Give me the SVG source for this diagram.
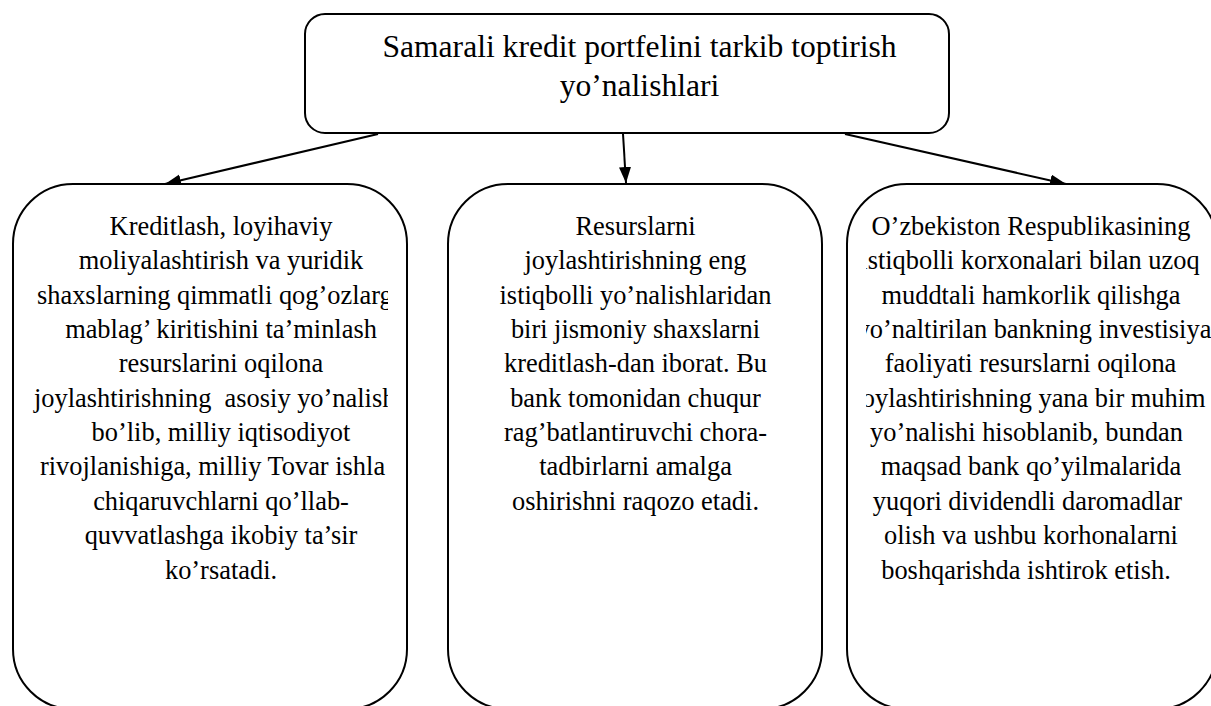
<svg xmlns="http://www.w3.org/2000/svg" width="1211" height="706" viewBox="0 0 1211 706">
<style>
.box{fill:#fff;stroke:#000;stroke-width:2}
.t{font-family:"Liberation Serif","Times New Roman",serif;font-size:26.4px;fill:#000}
.title{font-family:"Liberation Serif","Times New Roman",serif;font-size:31.6px;fill:#000;text-anchor:middle}
.m{text-anchor:middle}
.conn{stroke:#000;stroke-width:2;fill:none;marker-end:url(#arr)}
</style>
<defs>
<marker id="arr" markerUnits="userSpaceOnUse" markerWidth="18" markerHeight="14" refX="16" refY="6" orient="auto">
<path d="M0,0 L16,6 L0,12 z" fill="#000"/>
</marker>
<clipPath id="clipL"><rect x="0" y="180" width="388" height="530"/></clipPath>
<clipPath id="clipR"><rect x="866" y="180" width="345" height="530"/></clipPath>
</defs>

<g id="connectors">
<line class="conn" x1="378" y1="134" x2="165" y2="184"/>
<line class="conn" x1="623" y1="134" x2="626" y2="183"/>
<line class="conn" x1="845" y1="134" x2="1066" y2="184"/>
</g>

<g id="top">
<rect class="box" x="305" y="14" width="644" height="119" rx="20" ry="20"/>
<text class="title" x="639.5" y="57">Samarali kredit portfelini tarkib toptirish</text>
<text class="title" x="639.5" y="96">yo’nalishlari</text>
</g>

<g id="left">
<rect class="box" x="13" y="184" width="394" height="525" rx="60" ry="60"/>
<g clip-path="url(#clipL)" class="t">
<text class="m" x="221" y="235">Kreditlash, loyihaviy</text>
<text class="m" x="221" y="269.35">moliyalashtirish va yuridik</text>
<text x="37" y="303.7">shaxslarning qimmatli qog’ozlarg</text>
<text class="m" x="221" y="338">mablag’ kiritishini ta’minlash</text>
<text class="m" x="221" y="372.4">resurslarini oqilona</text>
<text x="34" y="406.75" xml:space="preserve">joylashtirishning  asosiy yo’nalish</text>
<text class="m" x="221" y="441.1">bo’lib, milliy iqtisodiyot</text>
<text x="40" y="475.45">rivojlanishiga, milliy Tovar ishla</text>
<text class="m" x="221" y="509.8">chiqaruvchlarni qo’llab-</text>
<text class="m" x="221" y="544.15">quvvatlashga ikobiy ta’sir</text>
<text class="m" x="221" y="578.5">ko’rsatadi.</text>
</g>
</g>

<g id="middle">
<rect class="box" x="448" y="184" width="374" height="525" rx="60" ry="60"/>
<g class="t">
<text class="m" x="635.5" y="235">Resurslarni</text>
<text class="m" x="635.5" y="269.35">joylashtirishning eng</text>
<text class="m" x="635.5" y="303.7">istiqbolli yo’nalishlaridan</text>
<text class="m" x="635.5" y="338">biri jismoniy shaxslarni</text>
<text class="m" x="635.5" y="372.4">kreditlash-dan iborat. Bu</text>
<text class="m" x="635.5" y="406.75">bank tomonidan chuqur</text>
<text class="m" x="635.5" y="441.1">rag’batlantiruvchi chora-</text>
<text class="m" x="635.5" y="475.45">tadbirlarni amalga</text>
<text class="m" x="635.5" y="509.8">oshirishni raqozo etadi.</text>
</g>
</g>

<g id="right">
<rect class="box" x="847" y="184" width="370" height="525" rx="60" ry="60"/>
<g clip-path="url(#clipR)" class="t">
<text class="m" x="1031" y="235">O’zbekiston Respublikasining</text>
<text class="m" x="1030" y="269.35">istiqbolli korxonalari bilan uzoq</text>
<text class="m" x="1031" y="303.7">muddtali hamkorlik qilishga</text>
<text class="m" x="1034" y="338">yo’naltirilan bankning investisiya</text>
<text class="m" x="1030.5" y="372.4">faoliyati resurslarni oqilona</text>
<text class="m" x="1030" y="406.75">joylashtirishning yana bir muhim</text>
<text class="m" x="1026.5" y="441.1">yo’nalishi hisoblanib, bundan</text>
<text class="m" x="1031" y="475.45">maqsad bank qo’yilmalarida</text>
<text class="m" x="1027.5" y="509.8">yuqori dividendli daromadlar</text>
<text class="m" x="1031" y="544.15">olish va ushbu korhonalarni</text>
<text class="m" x="1026" y="578.5">boshqarishda ishtirok etish.</text>
</g>
</g>
</svg>
